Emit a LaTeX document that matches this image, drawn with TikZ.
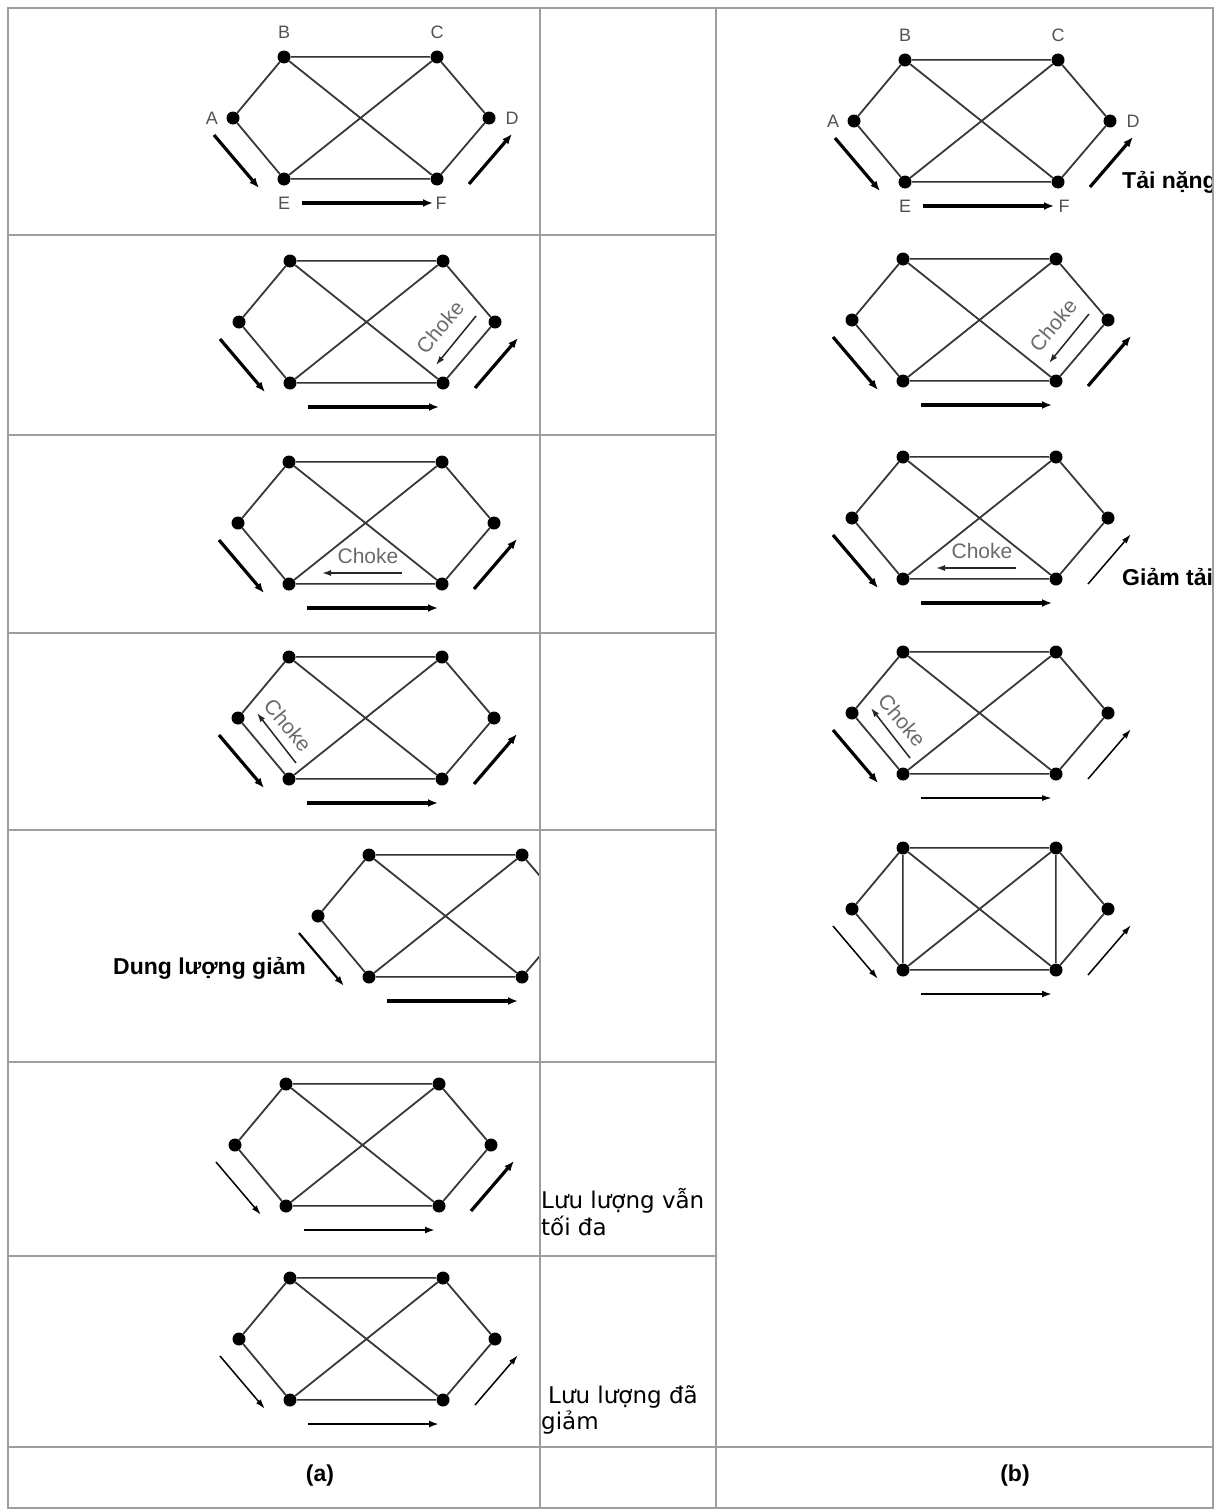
\documentclass[tikz,border=0pt]{standalone}
\usepackage{fontspec}
\setmainfont{Liberation Sans}
\newfontfamily\pixfont{DejaVu Sans}
\usetikzlibrary{arrows.meta}

% one six-node network: #1 name, (#2,#3) node B, #4 #5 #6 left/right/bottom flow
\newcommand{\netgraph}[6]{%
  \node[dot] (#1B) at (#2,#3) {};
  \node[dot] (#1C) at (#2+153,#3) {};
  \node[dot] (#1A) at (#2-51,#3+61) {};
  \node[dot] (#1D) at (#2+205,#3+61) {};
  \node[dot] (#1E) at (#2,#3+122) {};
  \node[dot] (#1F) at (#2+153,#3+122) {};
  \draw[link] (#1A) -- (#1B) (#1A) -- (#1E) (#1B) -- (#1F)
              (#1C) -- (#1E) (#1C) -- (#1D) (#1D) -- (#1F);
  \draw[dlink] (#1B) -- (#1C) (#1E) -- (#1F);
  \coordinate (#1l1) at (#2-70,#3+78);
  \coordinate (#1l2) at (#2-25,#3+131);
  \coordinate (#1r1) at (#2+185,#3+127);
  \coordinate (#1r2) at (#2+228,#3+77);
  \coordinate (#1b1) at (#2+18,#3+146);
  \coordinate (#1b2) at (#2+149,#3+146);
  \draw[#4] (#1l1) -- (#1l2);
  \draw[#5] (#1r1) -- (#1r2);
  \draw[#6] (#1b1) -- (#1b2);
}
% choke packets
\newcommand{\chokeDF}[1]{%
  \coordinate (#1k1) at ([shift={(33,55)}]#1C);
  \coordinate (#1k2) at ([shift={(-7,104)}]#1C);
  \draw[chk] (#1k1) -- (#1k2);
  \node[chktxt,rotate=50] (#1kt) at ([shift={(-3,66)}]#1C) {Choke};
}
\newcommand{\chokeEF}[1]{%
  \coordinate (#1k1) at ([shift={(113,-11)}]#1E);
  \coordinate (#1k2) at ([shift={(33,-11)}]#1E);
  \draw[chk] (#1k1) -- (#1k2);
  \node[chktxt] (#1kt) at ([shift={(79,-28)}]#1E) {Choke};
}
\newcommand{\chokeAE}[1]{%
  \coordinate (#1k1) at ([shift={(7,-16)}]#1E);
  \coordinate (#1k2) at ([shift={(-32,-66)}]#1E);
  \draw[chk] (#1k1) -- (#1k2);
  \node[chktxt,rotate=-50] (#1kt) at ([shift={(-1,-54)}]#1E) {Choke};
}

\begin{document}
\begin{tikzpicture}[x=1pt,y=-1pt,
    dot/.style={circle,fill=black,inner sep=0pt,minimum size=13pt},
    link/.style={draw=black!78,line width=1.8pt},
    dlink/.style={draw=black!80,line width=1pt,double=black!55,double distance=0.7pt},
    heavy/.style={-{Latex[length=10pt,width=8pt]},line width=3.2pt},
    mid/.style={-{Latex[length=10pt,width=7pt]},line width=2.2pt},
    light/.style={-{Latex[length=10pt,width=6pt]},line width=1.5pt},
    chk/.style={-{Latex[length=9pt,width=6pt]},line width=1.5pt,black!85},
    chktxt/.style={font=\fontsize{21}{21}\selectfont,text=black!58,inner sep=0pt},
    lbl/.style={font=\fontsize{18}{18}\selectfont,text=black!68,inner sep=0pt},
    note/.style={font=\fontsize{23}{23}\selectfont\bfseries,inner sep=0pt,anchor=base west},
    pix/.style={font=\pixfont\fontsize{23}{23}\selectfont,inner sep=0pt,anchor=base west},
    rule/.style={draw=black!38,line width=1.6pt}]
  \useasboundingbox (0,0) rectangle (1219,1512);

  % column (a)
  \netgraph{a1}{284}{57}{heavy}{heavy}{heavy}
  \netgraph{a2}{290}{261}{heavy}{heavy}{heavy}
  \chokeDF{a2}
  \netgraph{a3}{289}{462}{heavy}{heavy}{heavy}
  \chokeEF{a3}
  \netgraph{a4}{289}{657}{heavy}{heavy}{heavy}
  \chokeAE{a4}
  \begin{scope}
    \clip (8,831) rectangle (539,1062);
    \netgraph{a5}{369}{855}{mid}{light}{heavy}
  \end{scope}
  \netgraph{a6}{286}{1084}{light}{heavy}{mid}
  \netgraph{a7}{290}{1278}{light}{light}{mid}

  % column (b)
  \begin{scope}
    \clip (716,8) rectangle (1212,1447);
    \netgraph{b1}{905}{60}{heavy}{heavy}{heavy}
    \netgraph{b2}{903}{259}{heavy}{heavy}{heavy}
    \chokeDF{b2}
    \netgraph{b3}{903}{457}{heavy}{light}{heavy}
    \chokeEF{b3}
    \netgraph{b4}{903}{652}{heavy}{light}{light}
    \chokeAE{b4}
    \netgraph{b5}{903}{848}{light}{light}{mid}
    \draw[dlink] (b5B) -- (b5E) (b5C) -- (b5F);
    \node[note] (heavyload) at (1122,188) {Tải nặng};
    \node[note] (cutload) at (1122,585) {Giảm tải};
  \end{scope}

  % node names
  \foreach \g/\dx in {a1/4,b1/6} {
    \node[lbl] (\g tA) at ([shift={(-21,0)}]\g A) {A};
    \node[lbl] (\g tB) at ([shift={(0,-25)}]\g B) {B};
    \node[lbl] (\g tC) at ([shift={(0,-25)}]\g C) {C};
    \node[lbl] (\g tD) at ([shift={(23,0)}]\g D) {D};
    \node[lbl] (\g tE) at ([shift={(0,24)}]\g E) {E};
    \node[lbl] (\g tF) at ([shift={(\dx,24)}]\g F) {F};
  }

  % notes
  \node[note] (capdown) at (113,974) {Dung lượng giảm};
  \node[pix] (keep1) at (541,1208) {Lưu lượng vẫn};
  \node[pix] (keep2) at (541,1235) {tối đa};
  \node[pix] (less1) at (548,1403) {Lưu lượng đã};
  \node[pix] (less2) at (541,1429) {giảm};
  \node[note,anchor=center] (capa) at (320,1476) {(a)};
  \node[note,anchor=center] (capb) at (1015,1476) {(b)};

  % table rules
  \draw[rule] (8,8) rectangle (1213,1508);
  \draw[rule] (540,8) -- (540,1508);
  \draw[rule] (716,8) -- (716,1508);
  \foreach \y in {235,435,633,830,1062,1256} {
    \draw[rule] (8,\y) -- (716,\y);
  }
  \draw[rule] (8,1447) -- (1213,1447);
\end{tikzpicture}
\end{document}
